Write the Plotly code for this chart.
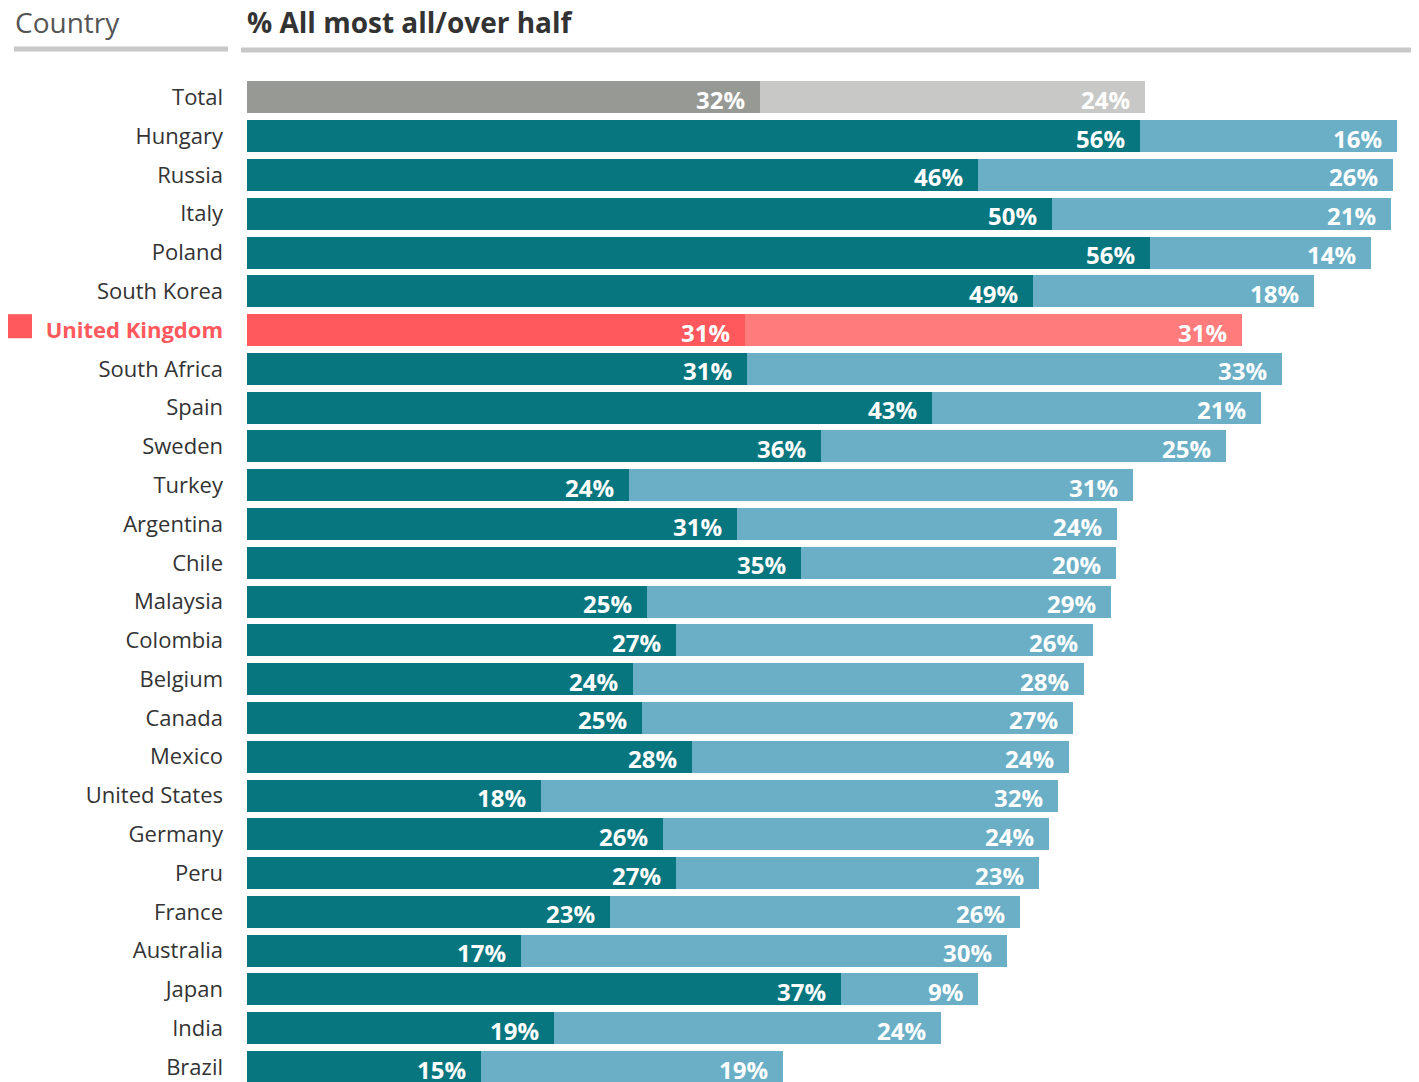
import plotly.graph_objects as go

countries = ["Total", "Hungary", "Russia", "Italy", "Poland", "South Korea", "United Kingdom",
             "South Africa", "Spain", "Sweden", "Turkey", "Argentina", "Chile", "Malaysia",
             "Colombia", "Belgium", "Canada", "Mexico", "United States", "Germany", "Peru",
             "France", "Australia", "Japan", "India", "Brazil"]
all_most_all = [32.06, 55.8, 45.7, 50.3, 56.45, 49.1, 31.1, 31.25, 42.8, 35.9, 23.9, 30.6, 34.6,
                25.0, 26.8, 24.1, 24.7, 27.8, 18.4, 26.0, 26.8, 22.7, 17.1, 37.1, 19.2, 14.6]
over_half = [24.06, 16.1, 25.9, 21.2, 13.8, 17.6, 31.1, 33.45, 20.6, 25.3, 31.45, 23.8, 19.7,
             29.0, 26.1, 28.2, 26.9, 23.6, 32.3, 24.1, 22.7, 25.6, 30.4, 8.6, 24.2, 18.9]

# page body has an 8px margin; figure coordinates = page coordinates - 8
OFF = 8
PAGE_W, PAGE_H = 1419, 1082
W, H = PAGE_W - OFF, PAGE_H - OFF
ML, MT = 247 - OFF, 77.6 - OFF
PW, PH = W - ML, H - MT
PX_PER_PCT = 16.0

def px_x(px):  # page pixel -> paper x
    return (px - OFF - ML) / PW

def px_y(py):  # page pixel -> paper y
    return (H - (py - OFF)) / PH

dark_cols, light_cols = [], []
for c in countries:
    if c == "Total":
        dark_cols.append("#979995"); light_cols.append("#C8C8C6")
    elif c == "United Kingdom":
        dark_cols.append("#FF585D"); light_cols.append("#FF7B7C")
    else:
        dark_cols.append("#07767F"); light_cols.append("#6AAFC6")

fig = go.Figure()
fig.add_trace(go.Bar(y=countries, x=all_most_all, orientation="h", width=0.825,
                     marker=dict(color=dark_cols, line=dict(width=0)), hoverinfo="skip"))
fig.add_trace(go.Bar(y=countries, x=over_half, orientation="h", width=0.825,
                     marker=dict(color=light_cols, line=dict(width=0)), hoverinfo="skip"))

annotations = []
lab_font = dict(family="Open Sans", size=24, color="white")
for c, a, b in zip(countries, all_most_all, over_half):
    annotations.append(dict(x=a, y=c, xref="x", yref="y", text="<b>%d%%</b>" % round(a),
                            showarrow=False, xanchor="right", xshift=-13, yshift=-2, font=lab_font))
    annotations.append(dict(x=a + b, y=c, xref="x", yref="y", text="<b>%d%%</b>" % round(b),
                            showarrow=False, xanchor="right", xshift=-13, yshift=-2, font=lab_font))

annotations.append(dict(x=px_x(13), y=px_y(22), xref="paper", yref="paper", text="Country",
                        showarrow=False, xanchor="left", yanchor="middle",
                        font=dict(family="Open Sans", size=28, color="#555555")))
annotations.append(dict(x=px_x(245), y=px_y(22), xref="paper", yref="paper",
                        text="<b>% All most all/over half</b>",
                        showarrow=False, xanchor="left", yanchor="middle",
                        font=dict(family="Open Sans", size=28, color="#333333")))

shapes = [
    dict(type="rect", xref="paper", yref="paper", x0=px_x(14), x1=px_x(228),
         y0=px_y(51), y1=px_y(46), fillcolor="#C8C8C8", line=dict(width=0)),
    dict(type="rect", xref="paper", yref="paper", x0=px_x(241), x1=px_x(1419),
         y0=px_y(52), y1=px_y(47), fillcolor="#C8C8C8", line=dict(width=0)),
    dict(type="rect", xref="paper", yref="y", x0=px_x(8), x1=px_x(32),
         y0=5.59, y1=6.21, fillcolor="#FF585D", line=dict(width=0)),
]

ticktext = []
for c in countries:
    if c == "United Kingdom":
        ticktext.append("<span style='color:#FF585D'><b>United Kingdom</b></span>")
    else:
        ticktext.append(c)

fig.update_layout(
    width=W, height=H, barmode="stack", showlegend=False,
    margin=dict(l=ML, r=0, t=MT, b=0, pad=0),
    paper_bgcolor="white", plot_bgcolor="white",
    xaxis=dict(range=[0, PW / PX_PER_PCT], visible=False, fixedrange=True),
    yaxis=dict(type="category", categoryorder="array", categoryarray=countries,
               range=[25.5 - 4.4 / 38.8, -0.5], tickmode="array", tickvals=countries,
               ticktext=ticktext, showgrid=False, zeroline=False, showline=False,
               ticks="", ticklabelstandoff=23,
               tickfont=dict(family="Open Sans", size=22, color="#333333")),
    annotations=annotations, shapes=shapes,
)

fig.write_html("out.html")
